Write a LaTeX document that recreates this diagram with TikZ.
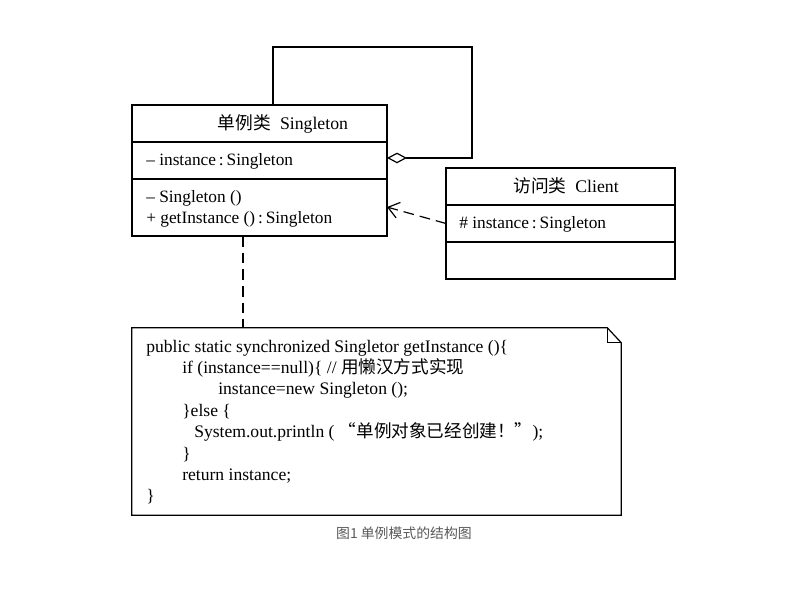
\documentclass[tikz,border=0pt]{standalone}
\usepackage{fontspec}
\setmainfont{Liberation Serif}
\newfontfamily\cjk{Noto Sans CJK SC}
\usetikzlibrary{arrows.meta}
\tikzset{
  box/.style={draw,line width=0.9pt,inner sep=0pt,outer sep=0pt},
  member/.style={anchor=base west,inner sep=0pt,font=\fontsize{13}{15}\selectfont},
  classname/.style={anchor=base,inner sep=0pt,font=\fontsize{13.3}{15}\selectfont},
  umldash/.style={line width=0.9pt,dash pattern=on 8pt off 4.5pt},
}
\begin{document}
\begin{tikzpicture}[x=0.75pt,y=-0.75pt]
          \useasboundingbox (0,0) rectangle (794,599);
          % classes
          \node[box,minimum width=191.25pt,minimum height=98.25pt] (singleton) at (259.5,170.5) {};
          \node[box,minimum width=171.75pt,minimum height=83.25pt] (client) at (560.5,223.5) {};
          \draw[line width=0.9pt] (132,142) -- (387,142);
          \draw[line width=0.9pt] (132,179) -- (387,179);
          \draw[line width=0.9pt] (446,205) -- (675,205);
          \draw[line width=0.9pt] (446,242) -- (675,242);

          \node[classname] (singleton name) at (283,130) {{\cjk 单例类}\ \ Singleton};
          \node[member] (singleton attr) at (146,166) {-- instance\,:\,Singleton};
          \node[member] (singleton ctor) at (146,203) {-- Singleton ()};
          \node[member] (singleton get) at (146,224) {+ getInstance ()\,:\,Singleton};
          \node[classname] (client name) at (566,193) {{\cjk 访问类}\ \ Client};
          \node[member] (client attr) at (459,229) {\# instance\,:\,Singleton};

          % note
          \node[inner sep=0pt,minimum width=366.75pt,minimum height=140.25pt] (note) at (376.5,421.5) {};
          \draw[line width=0.9pt] (note.north west) -- ([xshift=-10.5pt]note.north east)
            -- ([yshift=-11.25pt]note.north east) -- (note.south east) -- (note.south west) -- cycle;
          \draw[line width=0.9pt] ([xshift=-10.5pt]note.north east) |- ([yshift=-11.25pt]note.north east);
          \node[member,anchor=north west,align=left,font=\fontsize{13.2}{16.05}\selectfont] (code) at (146,339.7) {%
            public static synchronized Singletor getInstance ()\{\\
            \hspace*{27pt}if (instance==null)\{ // {\cjk 用懒汉方式实现}\\
            \hspace*{54pt}instance=new Singleton ();\\
            \hspace*{27pt}\}else \{\\
            \hspace*{36pt}System.out.println ( {\cjk “单例对象已经创建！”});\\
            \hspace*{27pt}\}\\
            \hspace*{27pt}return instance;\\
            \}};

          % connectors
          \coordinate (loop) at (472,47);
          \draw[line width=0.9pt,-{Diamond[open,length=15pt,width=8pt]}]
            ([xshift=10.1pt]singleton.north) |- (loop) |- ([yshift=9.4pt]singleton.east);
          \draw[umldash,-{Straight Barb[length=8pt,width=12pt]}] (client.west) -- ([yshift=-27.4pt]singleton.east);
          \draw[umldash] ([xshift=-12.4pt]singleton.south) -- ([xshift=-12.4pt]singleton.south |- note.north);

          \node[inner sep=0pt,text=black!65,font=\cjk\fontsize{10.4}{12}\selectfont] (caption) at (404,533) {图1 单例模式的结构图};
        \end{tikzpicture}
\end{document}
